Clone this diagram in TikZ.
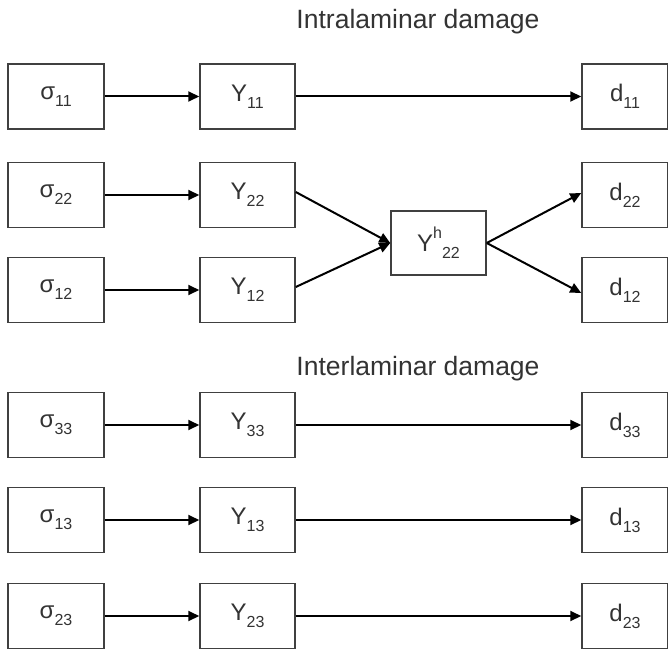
\documentclass[tikz,border=0pt]{standalone}
\usepackage{fontspec}
\setmainfont{Liberation Sans}
\usetikzlibrary{arrows.meta}
\newcommand{\sub}[1]{\raisebox{-0.3em}{\fontsize{16}{16}\selectfont #1}}
\newcommand{\sups}[1]{\raisebox{0.55em}{\fontsize{16}{16}\selectfont #1}}
\tikzset{
  blk/.style={draw=black!75, line width=1.5pt, minimum width=96pt, minimum height=65pt,
              inner sep=0pt, font=\fontsize{24}{24}\selectfont, text=black!80},
  sblk/.style={blk, minimum width=86pt},
  con/.style={line width=2pt, -{Triangle[length=11pt,width=10pt]}},
  ttl/.style={font=\fontsize{26.5}{26.5}\selectfont, text=black!80}
}
\begin{document}
\begin{tikzpicture}[x=1pt,y=-1pt]
\useasboundingbox (0,0) rectangle (668,652);
\node[ttl] (t1) at (418,22) {Intralaminar damage};
\node[ttl] (t2) at (418,369) {Interlaminar damage};
% stress, thermodynamic force and damage variables per row
\foreach \r/\y in {11/96.5, 22/195, 12/290, 33/425, 13/520, 23/616}{
  \node[blk] (s\r) at (56,\y) {σ\sub{\r}};
  \node[blk, minimum width=95pt] (Y\r) at (247.5,\y) {Y\sub{\r}};
  \node[sblk] (d\r) at (625,\y) {d\sub{\r}};
  \draw[con] (s\r) -- (Y\r);
}
\node[blk, minimum width=95pt, minimum height=64pt] (Yh) at (438.5,243) {Y\sups{h}\sub{22}};
\foreach \r in {11,33,13,23}{
  \draw[con] (Y\r) -- (d\r);
}
\draw[con] (Y22.east |- 0,192) -- (Yh.west);
\draw[con] (Y12.east |- 0,287) -- (Yh.west);
\draw[con] (Yh.east) -- (d22.west |- 0,193);
\draw[con] (Yh.east) -- (d12.west |- 0,293);
\end{tikzpicture}
\end{document}
